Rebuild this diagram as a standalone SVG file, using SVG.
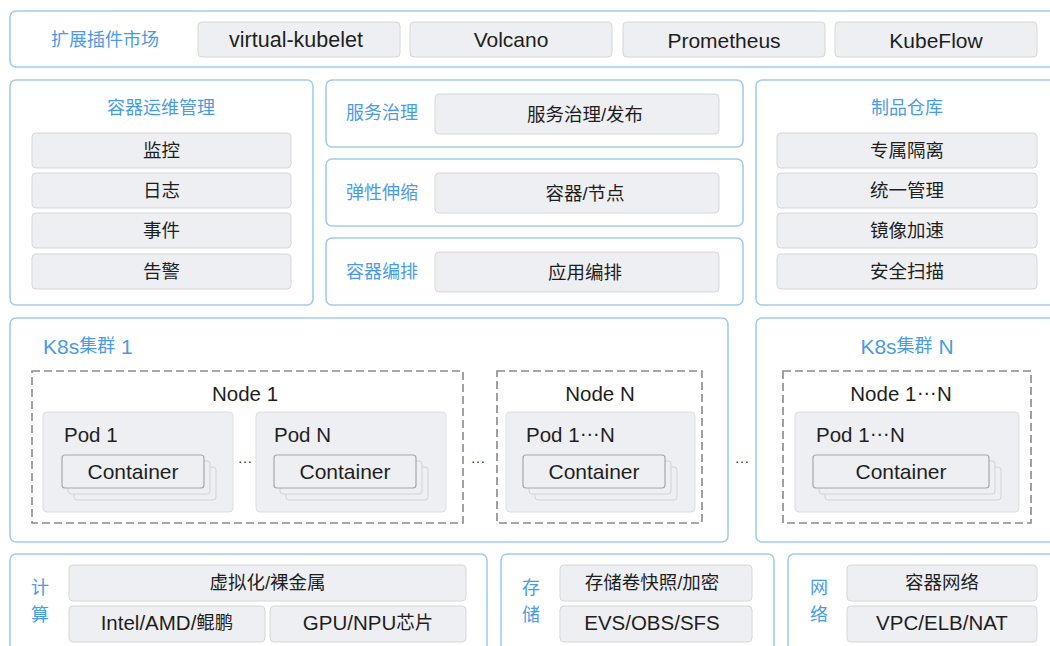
<svg xmlns="http://www.w3.org/2000/svg" width="1050" height="646" viewBox="0 0 1050 646">
  <defs>
    <style>
      .panel { fill: #ffffff; stroke: #a3cbf0; stroke-width: 1.6; }
      .item { fill: #eeeff3; stroke: #d6d7db; stroke-width: 1; }
      .node { fill: none; stroke: #8a8a8a; stroke-width: 1.6; stroke-dasharray: 8 4; }
      .pod { fill: #eeeff3; stroke: #dcdde1; stroke-width: 1; }
      .ctr { fill: #eeeff3; stroke: #a6a7aa; stroke-width: 1.2; }
      .ctrb { fill: #eeeff3; stroke: #d2d3d6; stroke-width: 1; }
      text { font-family: "Liberation Sans", "Noto Sans CJK SC", sans-serif; dominant-baseline: central; fill: #1e1e1e; }
      .cn { font-size: 18.5px; text-anchor: middle; }
      .en { font-size: 21px; text-anchor: middle; }
      .lbl { font-size: 20.5px; }
      .title { font-size: 18px; fill: #4a9be6; text-anchor: middle; }
      .gap { font-size: 15px; text-anchor: middle; fill: #333; }
    </style>
  </defs>

  <!-- plugin market -->
  <g id="plugin-market">
    <rect class="panel" x="10" y="11" width="1060" height="56" rx="6"/>
    <text class="title" x="105" y="40">扩展插件市场</text>
    <rect class="item" x="198" y="22" width="202" height="35" rx="4"/>
    <text class="en" x="296" y="40" style="font-size:21.5px">virtual-kubelet</text>
    <rect class="item" x="410" y="22" width="202" height="35" rx="4"/>
    <text class="en" x="511" y="39">Volcano</text>
    <rect class="item" x="623" y="22" width="202" height="35" rx="4"/>
    <text class="en" x="724" y="40">Prometheus</text>
    <rect class="item" x="835" y="22" width="202" height="35" rx="4"/>
    <text class="en" x="936" y="40">KubeFlow</text>
  </g>

  <!-- container O&M -->
  <g id="ops">
    <rect class="panel" x="10" y="80" width="303" height="225" rx="6"/>
    <text class="title" x="161" y="108">容器运维管理</text>
    <rect class="item" x="32" y="133" width="259" height="35" rx="4"/>
    <text class="cn" x="161.5" y="150.5">监控</text>
    <rect class="item" x="32" y="173" width="259" height="35" rx="4"/>
    <text class="cn" x="161.5" y="190.5">日志</text>
    <rect class="item" x="32" y="213" width="259" height="35" rx="4"/>
    <text class="cn" x="161.5" y="230.5">事件</text>
    <rect class="item" x="32" y="254" width="259" height="35" rx="4"/>
    <text class="cn" x="161.5" y="271.5">告警</text>
  </g>

  <!-- service governance -->
  <g id="governance">
    <rect class="panel" x="326" y="80" width="417" height="67" rx="6"/>
    <text class="title" x="382" y="113">服务治理</text>
    <rect class="item" x="435" y="94" width="284" height="40" rx="4"/>
    <text class="cn" x="585" y="114">服务治理/发布</text>
  </g>

  <!-- auto scaling -->
  <g id="scaling">
    <rect class="panel" x="326" y="159" width="417" height="67" rx="6"/>
    <text class="title" x="382" y="193">弹性伸缩</text>
    <rect class="item" x="435" y="173" width="284" height="40" rx="4"/>
    <text class="cn" x="585" y="193">容器/节点</text>
  </g>

  <!-- orchestration -->
  <g id="orchestration">
    <rect class="panel" x="326" y="238" width="417" height="67" rx="6"/>
    <text class="title" x="382" y="272">容器编排</text>
    <rect class="item" x="435" y="252" width="284" height="40" rx="4"/>
    <text class="cn" x="585" y="272">应用编排</text>
  </g>

  <!-- artifact registry -->
  <g id="registry">
    <rect class="panel" x="756" y="80" width="310" height="225" rx="6"/>
    <text class="title" x="907" y="108">制品仓库</text>
    <rect class="item" x="777" y="133" width="260" height="35" rx="4"/>
    <text class="cn" x="907" y="150.5">专属隔离</text>
    <rect class="item" x="777" y="173" width="260" height="35" rx="4"/>
    <text class="cn" x="907" y="190.5">统一管理</text>
    <rect class="item" x="777" y="213" width="260" height="35" rx="4"/>
    <text class="cn" x="907" y="230.5">镜像加速</text>
    <rect class="item" x="777" y="254" width="260" height="35" rx="4"/>
    <text class="cn" x="907" y="271.5">安全扫描</text>
  </g>

  <!-- cluster 1 -->
  <g id="cluster-1">
    <rect class="panel" x="10" y="318" width="718" height="224" rx="6"/>
    <text class="title" x="43" y="346" style="text-anchor:start"><tspan style="font-size:21px">K8s</tspan>集群<tspan style="font-size:21px"> 1</tspan></text>

    <g id="node-1">
      <rect class="node" x="32" y="371" width="431" height="152"/>
      <text class="lbl" x="245" y="393" text-anchor="middle">Node 1</text>

      <g id="pod-1">
        <rect class="pod" x="43" y="412" width="190" height="100" rx="4"/>
        <text class="lbl" x="64" y="434">Pod 1</text>
        <rect class="ctrb" x="74" y="467" width="142" height="33" rx="3"/>
        <rect class="ctrb" x="68" y="461" width="142" height="33" rx="3"/>
        <rect class="ctr" x="62" y="455" width="142" height="33" rx="3"/>
        <text class="en" x="133" y="471">Container</text>
      </g>

      <text class="gap" x="245" y="457">…</text>

      <g id="pod-n">
        <rect class="pod" x="256" y="412" width="190" height="100" rx="4"/>
        <text class="lbl" x="274" y="434">Pod N</text>
        <rect class="ctrb" x="286" y="467" width="142" height="33" rx="3"/>
        <rect class="ctrb" x="280" y="461" width="142" height="33" rx="3"/>
        <rect class="ctr" x="274" y="455" width="142" height="33" rx="3"/>
        <text class="en" x="345" y="471">Container</text>
      </g>
    </g>

    <text class="gap" x="478" y="457">…</text>

    <g id="node-n">
      <rect class="node" x="497" y="371" width="205" height="152"/>
      <text class="lbl" x="600" y="393" text-anchor="middle">Node N</text>
      <rect class="pod" x="506" y="412" width="189" height="100" rx="4"/>
      <text class="lbl" x="526" y="434">Pod 1<tspan dy="-6">…</tspan><tspan dy="6">N</tspan></text>
      <rect class="ctrb" x="535" y="467" width="142" height="33" rx="3"/>
      <rect class="ctrb" x="529" y="461" width="142" height="33" rx="3"/>
      <rect class="ctr" x="523" y="455" width="142" height="33" rx="3"/>
      <text class="en" x="594" y="471">Container</text>
    </g>
  </g>

  <text class="gap" x="742" y="457">…</text>

  <!-- cluster N -->
  <g id="cluster-n">
    <rect class="panel" x="756" y="318" width="310" height="224" rx="6"/>
    <text class="title" x="907" y="346"><tspan style="font-size:21px">K8s</tspan>集群<tspan style="font-size:21px"> N</tspan></text>
    <rect class="node" x="783" y="371" width="248" height="152"/>
    <text class="lbl" x="901" y="393" text-anchor="middle">Node 1<tspan dy="-6">…</tspan><tspan dy="6">N</tspan></text>
    <rect class="pod" x="795" y="412" width="224" height="100" rx="4"/>
    <text class="lbl" x="816" y="434">Pod 1<tspan dy="-6">…</tspan><tspan dy="6">N</tspan></text>
    <rect class="ctrb" x="825" y="467" width="176" height="33" rx="3"/>
    <rect class="ctrb" x="819" y="461" width="176" height="33" rx="3"/>
    <rect class="ctr" x="813" y="455" width="176" height="33" rx="3"/>
    <text class="en" x="901" y="471">Container</text>
  </g>

  <!-- compute -->
  <g id="compute">
    <rect class="panel" x="10" y="554" width="477" height="110" rx="6"/>
    <text class="title" x="40" y="588">计</text>
    <text class="title" x="40" y="615">算</text>
    <rect class="item" x="69" y="565" width="397" height="36" rx="4"/>
    <text class="cn" x="267.5" y="582">虚拟化/裸金属</text>
    <rect class="item" x="69" y="606" width="196" height="36" rx="4"/>
    <text class="cn" x="167" y="622"><tspan style="font-size:20.5px">Intel/AMD/</tspan>鲲鹏</text>
    <rect class="item" x="270" y="606" width="196" height="36" rx="4"/>
    <text class="cn" x="368" y="622"><tspan style="font-size:20.5px">GPU/NPU</tspan>芯片</text>
  </g>

  <!-- storage -->
  <g id="storage">
    <rect class="panel" x="501" y="554" width="273" height="110" rx="6"/>
    <text class="title" x="531" y="588">存</text>
    <text class="title" x="531" y="615">储</text>
    <rect class="item" x="560" y="565" width="192" height="36" rx="4"/>
    <text class="cn" x="652" y="582">存储卷快照/加密</text>
    <rect class="item" x="560" y="606" width="192" height="36" rx="4"/>
    <text class="en" x="652" y="622" style="font-size:20.5px">EVS/OBS/SFS</text>
  </g>

  <!-- network -->
  <g id="network">
    <rect class="panel" x="788" y="554" width="280" height="110" rx="6"/>
    <text class="title" x="819" y="588">网</text>
    <text class="title" x="819" y="615">络</text>
    <rect class="item" x="847" y="565" width="190" height="36" rx="4"/>
    <text class="cn" x="942" y="582">容器网络</text>
    <rect class="item" x="847" y="606" width="190" height="36" rx="4"/>
    <text class="en" x="942" y="622" style="font-size:20.5px">VPC/ELB/NAT</text>
  </g>

  <!-- no connectors in this layered view -->
  <g id="connectors"/>
</svg>
